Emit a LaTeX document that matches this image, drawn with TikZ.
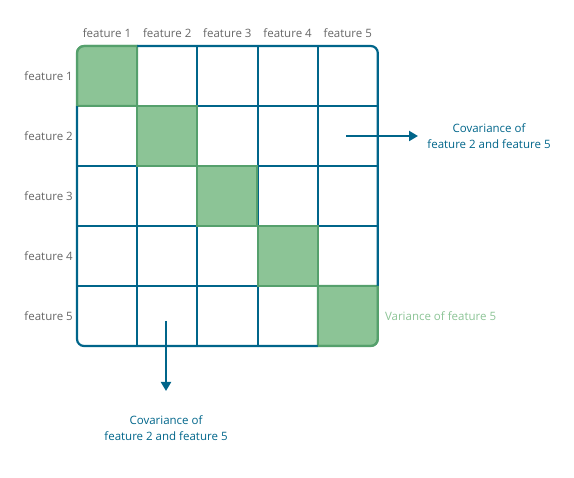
\documentclass[tikz,border=0pt]{standalone}
\usepackage{fontspec}
\setmainfont{Open Sans}
\usetikzlibrary{arrows.meta}
\definecolor{gblue}{HTML}{00658A}
\definecolor{gfill}{HTML}{8CC496}
\definecolor{gedge}{HTML}{55A06C}
\definecolor{glabel}{HTML}{666666}
\definecolor{gvar}{HTML}{8CC496}
\tikzset{
  cell/.style={minimum size=60pt, inner sep=0pt, outer sep=0pt, anchor=north west},
  gridline/.style={draw=gblue, line width=2pt},
  diag/.style={fill=gfill, draw=gedge, line width=2pt},
  lbl/.style={text=glabel, font=\fontsize{11.5}{13}\selectfont, inner sep=0pt},
  note/.style={text=gblue, font=\fontsize{11.5}{16}\selectfont, align=center, inner sep=0pt},
  pointer/.style={draw=gblue, line width=2pt, -{Triangle[length=9pt,width=10pt]}}
}
\begin{document}
\begin{tikzpicture}[x=1pt,y=-1pt]
\useasboundingbox (0,0) rectangle (574,478);
% grid cells
\foreach \r in {1,...,5}{
  \foreach \c in {1,...,5}{
    \node[cell] (c\r\c) at ({77+(\c-1)*60.2},{46+(\r-1)*60}) {};
  }
}
% inner grid lines
\foreach \c in {2,...,5}{
  \draw[gridline] (c1\c.north west) -- (c5\c.south west);
}
\foreach \r in {2,...,5}{
  \draw[gridline] (c\r1.north west) -- (c\r5.north east);
}
% diagonal (green) cells
\path[diag] (c22.north west) rectangle (c22.south east);
\path[diag] (c33.north west) rectangle (c33.south east);
\path[diag] (c44.north west) rectangle (c44.south east);
\path[diag] (c11.south west) [rounded corners=7pt] -- (c11.north west) [sharp corners] -- (c11.north east) -- (c11.south east) -- cycle;
\path[diag] (c55.north west) -- (c55.north east) [rounded corners=7pt] -- (c55.south east) [sharp corners] -- (c55.south west) -- cycle;
% outer border
\draw[gblue, line width=2.2pt, rounded corners=7pt] (c11.north east) -- (c15.north east) -- (c55.north east);
\draw[gblue, line width=2.2pt, rounded corners=7pt] (c21.north west) -- (c51.south west) -- (c55.south west);
\draw[gedge, line width=2.2pt, rounded corners=7pt] (c21.north west) -- (c11.north west) -- (c11.north east);
\draw[gedge, line width=2.2pt, rounded corners=7pt] (c55.north east) -- (c55.south east) -- (c55.south west);
% column headers
\foreach \c in {1,...,5}{
  \node[lbl] (h\c) at ([yshift=13pt]c1\c.north) {feature \c};
}
% row headers
\foreach \r in {1,...,5}{
  \node[lbl, anchor=east] (v\r) at ([xshift=-4pt]c\r1.west) {feature \r};
}
% annotations
\coordinate (s1) at (346,136);
\coordinate (e1) at (418,136);
\node[note] (n1) at (489,136) {Covariance of\\feature 2 and feature 5};
\draw[pointer] (s1) -- (e1);
\coordinate (s2) at (166,321);
\coordinate (e2) at (166,391);
\node[note] (n2) at (166,428) {Covariance of\\feature 2 and feature 5};
\draw[pointer] (s2) -- (e2);
\node[lbl, text=gvar, anchor=west] (var) at ([xshift=7pt]c55.east) {Variance of feature 5};
\end{tikzpicture}
\end{document}
